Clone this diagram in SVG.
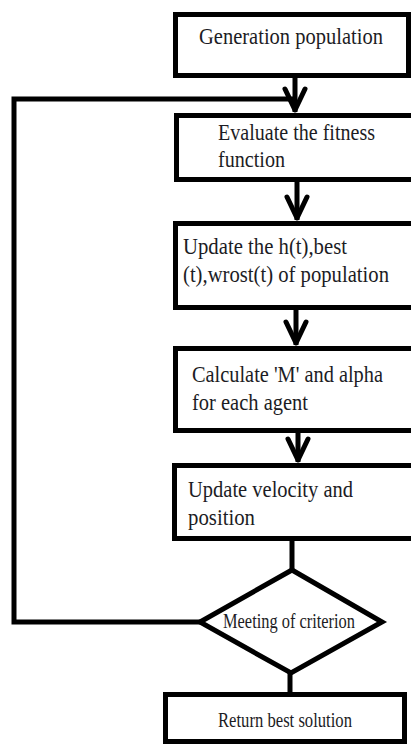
<svg xmlns="http://www.w3.org/2000/svg" width="411" height="744" viewBox="0 0 411 744">
<defs>
<style>
.box{fill:#fff;stroke:#000;stroke-width:5}
.ln{fill:none;stroke:#000;stroke-width:5;stroke-linejoin:miter}
.t{font-family:"Liberation Serif","DejaVu Serif",serif;font-size:23px;fill:#1c1c24}
.s{font-family:"Liberation Serif","DejaVu Serif",serif;font-size:21px;fill:#1c1c24}
</style>
<marker id="ah" markerUnits="userSpaceOnUse" markerWidth="40" markerHeight="40" viewBox="-30 -20 40 40" refX="0" refY="0" orient="auto">
<path d="M-23,-10 L-2,0 L-23,10" fill="none" stroke="#000" stroke-width="5" stroke-linejoin="round" stroke-linecap="round"/>
</marker>
</defs>
<rect width="411" height="744" fill="#fff"/>
<g id="connectors">
<path class="ln" d="M295,78 L295,112" marker-end="url(#ah)"/>
<path class="ln" d="M200,622 L14,622 L14,99 L294,99"/>
<path class="ln" d="M297,182 L297,220" marker-end="url(#ah)"/>
<path class="ln" d="M296,310 L296,345" marker-end="url(#ah)"/>
<path class="ln" d="M298,433 L298,462" marker-end="url(#ah)"/>
<path class="ln" d="M292,541 L292,571"/>
<path class="ln" d="M290,672 L290,693"/>
</g>
<g id="n1">
<rect class="box" x="175.5" y="14.5" width="233" height="61"/>
<text class="t" x="199" y="44" textLength="184" lengthAdjust="spacingAndGlyphs">Generation population</text>
</g>
<g id="n2">
<rect class="box" x="176.5" y="115.5" width="250" height="64"/>
<text class="t" x="218" y="140" textLength="157" lengthAdjust="spacingAndGlyphs">Evaluate the fitness</text>
<text class="t" x="218" y="167" textLength="67" lengthAdjust="spacingAndGlyphs">function</text>
</g>
<g id="n3">
<rect class="box" x="175.5" y="223.5" width="250" height="84"/>
<text class="t" x="183" y="254" textLength="164" lengthAdjust="spacingAndGlyphs">Update the h(t),best</text>
<text class="t" x="183" y="282" textLength="206" lengthAdjust="spacingAndGlyphs">(t),wrost(t) of population</text>
</g>
<g id="n4">
<rect class="box" x="175.5" y="348.5" width="250" height="82"/>
<text class="t" x="192" y="382" textLength="191" lengthAdjust="spacingAndGlyphs">Calculate 'M' and alpha</text>
<text class="t" x="192" y="410" textLength="116" lengthAdjust="spacingAndGlyphs">for each agent</text>
</g>
<g id="n5">
<rect class="box" x="174.5" y="465.5" width="250" height="73"/>
<text class="t" x="188" y="497" textLength="165" lengthAdjust="spacingAndGlyphs">Update velocity and</text>
<text class="t" x="188" y="525" textLength="67" lengthAdjust="spacingAndGlyphs">position</text>
</g>
<g id="n6">
<polygon class="box" points="292,570 382,622 291,673 200,622"/>
<text class="s" x="223" y="628" textLength="132" lengthAdjust="spacingAndGlyphs">Meeting of criterion</text>
</g>
<g id="n7">
<rect class="box" x="165.5" y="694.5" width="239" height="47"/>
<text class="s" x="218" y="727" textLength="134" lengthAdjust="spacingAndGlyphs">Return best solution</text>
</g>
</svg>
